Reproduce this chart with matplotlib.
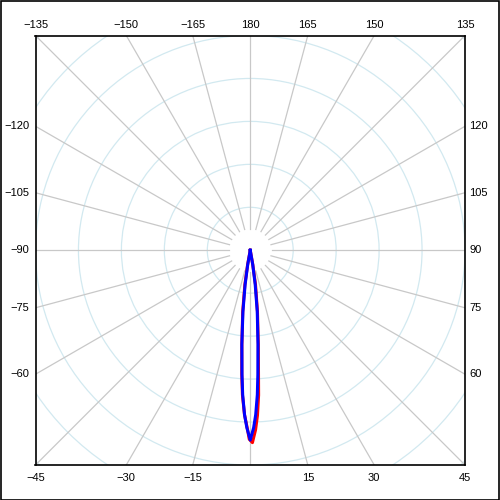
import numpy as np
import matplotlib
matplotlib.use("Agg")
import matplotlib.pyplot as plt
from matplotlib.patches import Circle, Rectangle

# polar data: angle in degrees (0 = down, 90 = right), radius in ring units
blue_angles = [-12, -10, -8.5, -6.8, -5.1, -3.8, -3.0, -2.0, -1.1, 0,
               1.1, 1.9, 2.8, 3.5, 4.7, 6.5, 8.2, 9.8, 12]
blue_r = [0, 3.4, 8.1, 14.4, 22.0, 29.0, 33.7, 38.3, 41.3, 44.2,
          41.3, 38.3, 33.7, 29.0, 22.0, 14.4, 8.1, 3.4, 0]

red_angles = [-12, -10.4, -8.9, -7.0, -5.1, -3.9, -3.1, -2.0, -1.0, -0.3, 0.65,
              1.7, 2.5, 3.3, 3.8, 4.9, 6.7, 8.7, 10, 12]
red_r = [0, 3.4, 8.1, 14.4, 22.0, 29.0, 33.7, 38.3, 41.3, 44.0, 44.8,
         41.8, 38.5, 33.8, 29.0, 22.0, 14.4, 8.1, 3.4, 0]

ring_radii = [10, 20, 30, 40, 50, 60, 70]
spoke_angles = list(range(-165, 181, 15))
label_angles = [-135, -150, -165, 180, 165, 150, 135, 120, 105, 90, 75, 60,
                45, 30, 15, -15, -30, -45, -60, -75, -90, -105, -120]

R_BOX = 50
R_SPOKE_IN = 5
R_SPOKE_OUT = 80

plt.rcParams["font.family"] = ["Liberation Sans", "DejaVu Sans"]


def to_xy(angles, r):
    th = np.radians(np.asarray(angles, dtype=float))
    r = np.asarray(r, dtype=float)
    return r * np.sin(th), -r * np.cos(th)


fig = plt.figure(figsize=(5, 5), dpi=100)
fig.patch.set_facecolor("white")
fig.patches.append(Rectangle((0.001, 0.001), 0.997, 0.997, transform=fig.transFigure,
                             fill=False, edgecolor="black", linewidth=1.2))

ax = fig.add_axes([0.071, 0.07, 0.859, 0.859])
ax.set_xlim(-R_BOX, R_BOX)
ax.set_ylim(-R_BOX, R_BOX)
ax.set_xticks([])
ax.set_yticks([])
for s in ax.spines.values():
    s.set_linewidth(1.2)
    s.set_color("black")
    s.set_zorder(10)

# rings
for rr in ring_radii:
    ax.add_patch(Circle((0, 0), rr, fill=False, edgecolor="#d2e9f0", linewidth=0.9))

# spokes
for a in spoke_angles:
    xs, ys = to_xy([a, a], [R_SPOKE_IN, R_SPOKE_OUT])
    ax.plot(xs, ys, color="#c8c8c8", linewidth=0.9)

# series
xr, yr = to_xy(red_angles, red_r)
ax.plot(xr, yr, color="red", linewidth=2.2, zorder=5)
xb, yb = to_xy(blue_angles, blue_r)
ax.plot(xb, yb, color="blue", linewidth=2.2, zorder=6)

# angle labels at the box edge
for a in label_angles:
    th = np.radians(a)
    s, c = np.sin(th), -np.cos(th)
    r_edge = R_BOX / max(abs(s), abs(c))
    x, y = r_edge * s, r_edge * c
    txt = str(a).replace("-", "\u2212")
    if abs(c) >= abs(s) - 1e-9:
        if y > 0:
            off, ha, va = (0, 11), "center", "center"
        else:
            off, ha, va = (0, -13), "center", "center"
    elif x < 0:
        off, ha, va = (-6, 0), "right", "center"
    else:
        off, ha, va = (4, 0), "left", "center"
    ax.annotate(txt, xy=(x, y), xytext=off, textcoords="offset pixels",
                ha=ha, va=va, fontsize=8, annotation_clip=False)

fig.savefig("out.png", dpi=100)
